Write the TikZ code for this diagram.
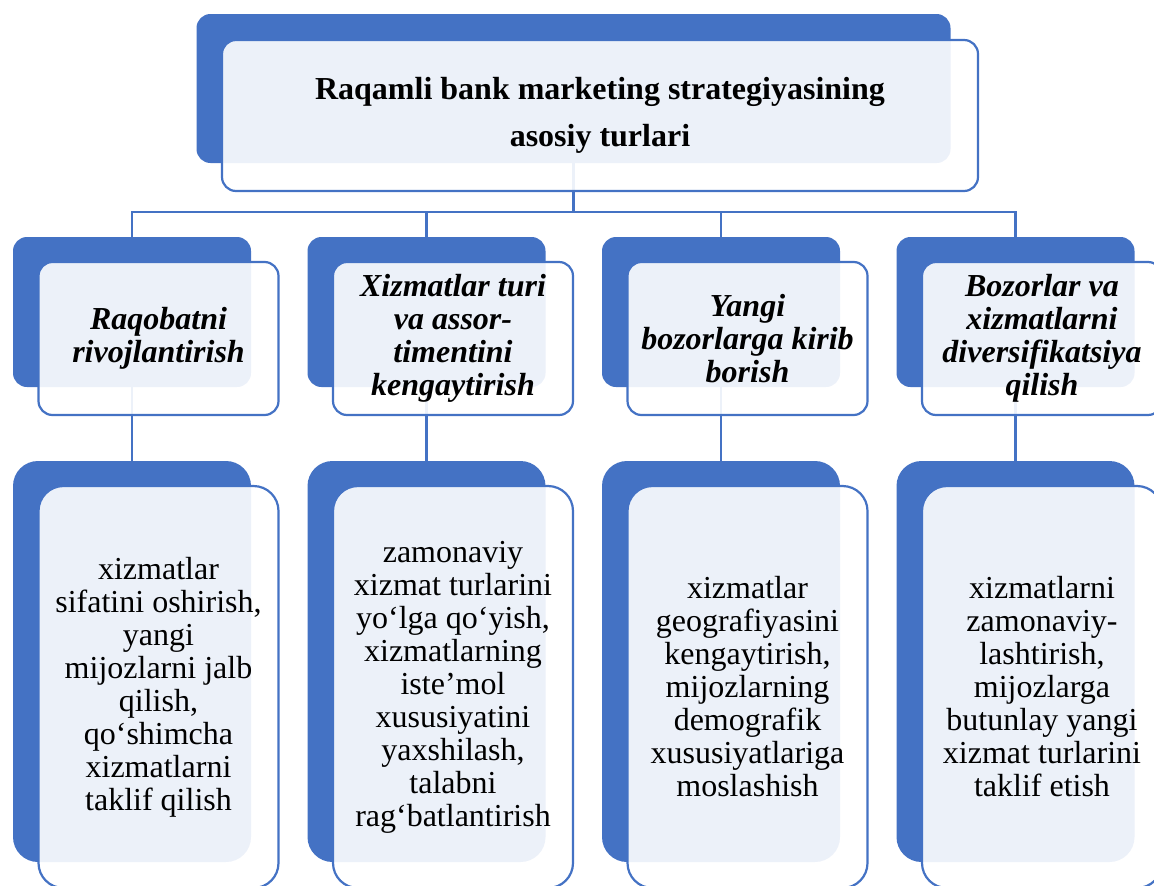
\documentclass[tikz,border=0pt]{standalone}
\usepackage{fontspec}
\setmainfont{Liberation Serif}
\usetikzlibrary{backgrounds}
\definecolor{sablue}{HTML}{4472C4}

\begin{document}
\begin{tikzpicture}[x=1pt, y=-1pt,
  back/.style={fill=sablue, draw=none, rounded corners=14pt, inner sep=0pt},
  front/.style={draw=sablue, line width=2.2pt, fill=white, fill opacity=0.9,
    text opacity=1, rounded corners=14pt, align=center, inner sep=0pt},
  link/.style={sablue, line width=2.6pt},
  head/.style={font=\fontsize{32}{47}\selectfont\bfseries},
  kind/.style={font=\fontsize{32}{33}\selectfont\bfseries\itshape},
  item/.style={font=\fontsize{32}{33}\selectfont}]
\useasboundingbox (0,0) rectangle (1154,886);
\clip (0,0) rectangle (1154,886);
% ---- top box ----
\node[back, minimum width=754pt, minimum height=149pt] (tb) at (573.5,88.5) {};
\node[front, head, minimum width=756pt, minimum height=151pt] (tf) at (600,115.5)
  {Raqamli bank marketing strategiyasining\\asosiy turlari};
% ---- strategy boxes ----
\node[back, minimum width=238pt, minimum height=150pt] (sb1) at (132,312) {};
\node[back, minimum width=238pt, minimum height=150pt] (sb2) at (426.5,312) {};
\node[back, minimum width=238pt, minimum height=150pt] (sb3) at (721,312) {};
\node[back, minimum width=238pt, minimum height=150pt] (sb4) at (1015.5,312) {};
\node[front, kind, minimum width=240pt, minimum height=153pt] (sf1) at (158.5,338.5)
  {Raqobatni\\rivojlantirish};
\node[front, kind, minimum width=240pt, minimum height=153pt] (sf2) at (453,338.5)
  {Xizmatlar turi\\va assor-\\timentini\\kengaytirish};
\node[front, kind, minimum width=240pt, minimum height=153pt] (sf3) at (747.5,338.5)
  {Yangi\\bozorlarga kirib\\borish};
\node[front, kind, minimum width=240pt, minimum height=153pt] (sf4) at (1042,338.5)
  {Bozorlar va\\xizmatlarni\\diversifikatsiya\\qilish};
% ---- detail boxes ----
\node[back, rounded corners=25pt, minimum width=238pt, minimum height=401pt] (db1) at (132,661.5) {};
\node[back, rounded corners=25pt, minimum width=238pt, minimum height=401pt] (db2) at (426.5,661.5) {};
\node[back, rounded corners=25pt, minimum width=238pt, minimum height=401pt] (db3) at (721,661.5) {};
\node[back, rounded corners=25pt, minimum width=238pt, minimum height=401pt] (db4) at (1015.5,661.5) {};
\node[front, item, rounded corners=25pt, minimum width=240pt, minimum height=402pt] (df1) at (158.5,687)
  {xizmatlar\\sifatini oshirish,\\yangi\\mijozlarni jalb\\qilish,\\qo‘shimcha\\xizmatlarni\\taklif qilish};
\node[front, item, rounded corners=25pt, minimum width=240pt, minimum height=402pt] (df2) at (453,687)
  {zamonaviy\\xizmat turlarini\\yo‘lga qo‘yish,\\xizmatlarning\\iste’mol\\xususiyatini\\yaxshilash,\\talabni\\rag‘batlantirish};
\node[front, item, rounded corners=25pt, minimum width=240pt, minimum height=402pt] (df3) at (747.5,687)
  {xizmatlar\\geografiyasini\\kengaytirish,\\mijozlarning\\demografik\\xususiyatlariga\\moslashish};
\node[front, item, rounded corners=25pt, minimum width=240pt, minimum height=402pt] (df4) at (1042,687)
  {xizmatlarni\\zamonaviy-\\lashtirish,\\mijozlarga\\butunlay yangi\\xizmat turlarini\\taklif etish};
% ---- connectors (behind the boxes) ----
\coordinate (bus) at (573.5,212);
\begin{scope}[on background layer]
\foreach \i in {1,...,4} {
  \draw[link] (tb.center) -- (bus) -| (sb\i.center);
  \draw[link] (sb\i.center) -- (db\i.center);
}
\end{scope}
\end{tikzpicture}
\end{document}
